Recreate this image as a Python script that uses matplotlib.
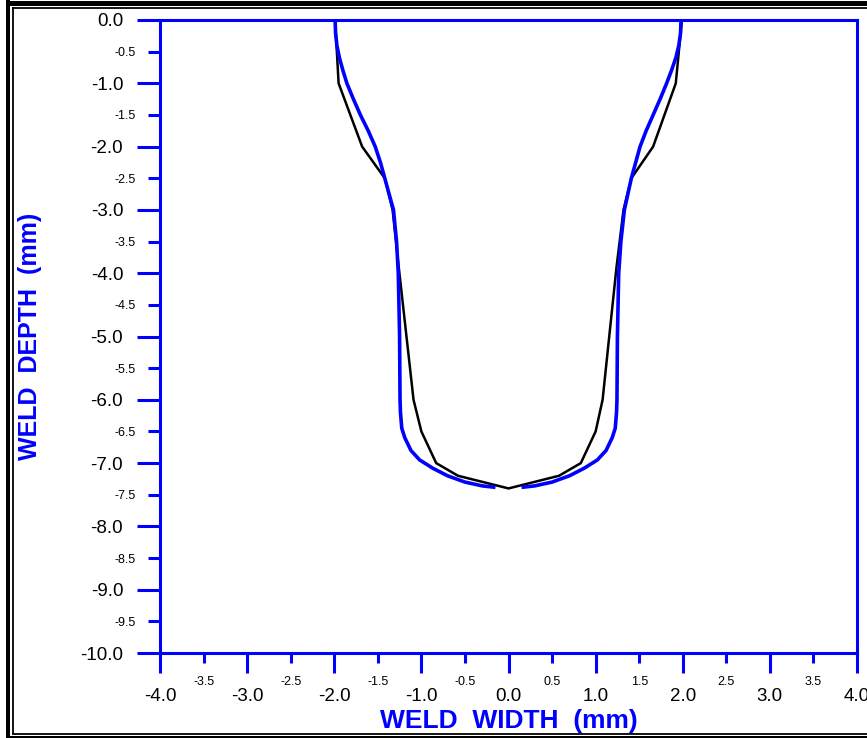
import matplotlib
matplotlib.use("Agg")
import matplotlib.pyplot as plt
from matplotlib.lines import Line2D
from matplotlib.ticker import MultipleLocator, FormatStrFormatter

plt.rcParams["font.family"] = ["Liberation Sans", "DejaVu Sans"]

BLUE = "#0000ff"
W, H = 867, 738

# measured weld profile (black, piecewise linear)
meas_x = [-1.99, -1.95, -1.68, -1.42, -1.33, -1.26, -1.09, -1.00, -0.83, -0.58, 0.00,
          0.58, 0.83, 1.00, 1.08, 1.24, 1.32, 1.41, 1.66, 1.92, 1.99]
meas_y = [0.0, -1.0, -2.0, -2.5, -3.0, -3.9, -6.0, -6.5, -7.0, -7.2, -7.4,
          -7.2, -7.0, -6.5, -6.0, -3.9, -3.0, -2.5, -2.0, -1.0, 0.0]

# simulated fusion boundary (blue), left and right halves
sim_left_x = [-1.99, -1.985, -1.97, -1.94, -1.90, -1.855, -1.78, -1.70, -1.61, -1.53,
              -1.47, -1.42, -1.37, -1.32, -1.285, -1.265, -1.25, -1.245, -1.24,
              -1.225, -1.19, -1.12, -1.02, -0.87, -0.70, -0.50, -0.30, -0.17]
sim_left_y = [0.0, -0.2, -0.4, -0.6, -0.8, -1.0, -1.25, -1.5, -1.75, -2.0,
              -2.25, -2.5, -2.75, -3.0, -3.5, -4.0, -5.0, -6.0, -6.2,
              -6.45, -6.6, -6.8, -6.95, -7.08, -7.2, -7.3, -7.36, -7.38]
sim_right_x = [0.17, 0.30, 0.50, 0.70, 0.87, 1.02, 1.12, 1.19, 1.225, 1.24, 1.245,
               1.25, 1.265, 1.29, 1.33, 1.37, 1.41, 1.46, 1.51, 1.58, 1.66,
               1.74, 1.815, 1.87, 1.92, 1.955, 1.975, 1.98]
sim_right_y = [-7.38, -7.36, -7.3, -7.2, -7.08, -6.95, -6.8, -6.6, -6.45, -6.2, -6.0,
               -5.0, -4.0, -3.5, -3.0, -2.75, -2.5, -2.25, -2.0, -1.75, -1.5,
               -1.25, -1.0, -0.8, -0.6, -0.4, -0.2, 0.0]

fig = plt.figure(figsize=(W / 100, H / 100), dpi=100)
ax = fig.add_axes([160 / W, 1 - 653 / H, (857 - 160) / W, (653 - 20) / H])

ax.plot(meas_x, meas_y, color="black", lw=1.8, solid_joinstyle="miter")
ax.plot(sim_left_x, sim_left_y, color=BLUE, lw=2.6)
ax.plot(sim_right_x, sim_right_y, color=BLUE, lw=2.6)

ax.set_xlim(-4, 4)
ax.set_ylim(-10, 0)

for s in ax.spines.values():
    s.set_color(BLUE)
    s.set_linewidth(2.2)

ax.xaxis.set_major_locator(MultipleLocator(1.0))
ax.xaxis.set_minor_locator(MultipleLocator(0.5))
ax.yaxis.set_major_locator(MultipleLocator(1.0))
ax.yaxis.set_minor_locator(MultipleLocator(0.5))
for axis in (ax.xaxis, ax.yaxis):
    axis.set_major_formatter(FormatStrFormatter("%.1f"))
    axis.set_minor_formatter(FormatStrFormatter("%.1f"))

ax.tick_params(axis="both", which="both", direction="out", color=BLUE,
               width=2.2, labelcolor="black")
ax.tick_params(axis="y", which="major", length=16.5, pad=10, labelsize=13.5)
ax.tick_params(axis="y", which="minor", length=8.6, pad=8.6, labelsize=9)
ax.tick_params(axis="x", which="major", length=14.4, pad=10.5, labelsize=13.5)
ax.tick_params(axis="x", which="minor", length=7.2, pad=9.5, labelsize=9)

ax.set_xlabel("WELD  WIDTH  (mm)", color=BLUE, fontsize=19, fontweight="bold")
ax.set_ylabel("WELD  DEPTH  (mm)", color=BLUE, fontsize=18, fontweight="bold")
ax.xaxis.set_label_coords(0.5, -0.089)
ax.yaxis.set_label_coords(-0.169, 0.5)


# double border round the figure
def frame_line(xs, ys, lw_px):
    fig.add_artist(Line2D([x / W for x in xs], [1 - y / H for y in ys],
                          color="black", lw=lw_px * 0.72,
                          transform=fig.transFigure, solid_capstyle="butt"))


frame_line([6, W + 5], [2.5, 2.5], 5)
frame_line([8, 8], [0, 738], 4)
frame_line([6, W + 5], [736.8, 736.8], 3)
frame_line([12, W + 5], [7.5, 7.5], 1.8)
frame_line([13, 13], [6.5, 734], 1.8)
frame_line([12, W + 5], [733.5, 733.5], 1.8)

fig.savefig("out.png", dpi=100)
